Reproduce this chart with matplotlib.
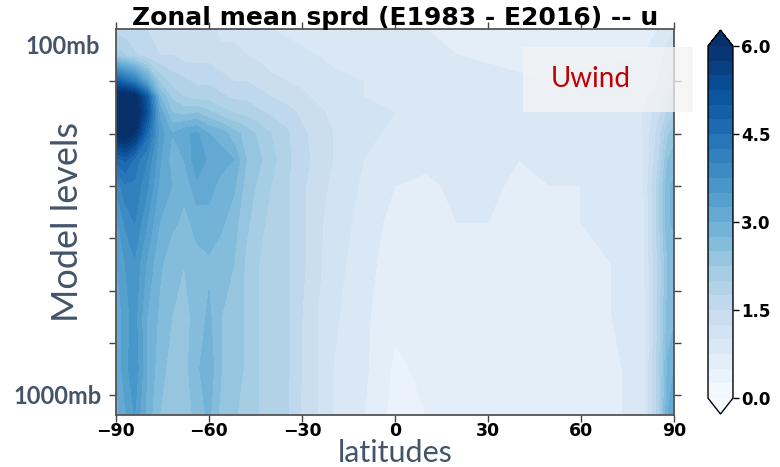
import numpy as np
import matplotlib
matplotlib.use("Agg")
import matplotlib.pyplot as plt
from matplotlib.patches import Rectangle

# latitude columns and model-level rows of the zonal mean spread (m/s)
lats = [-90, -87, -84, -80, -76, -72, -68, -64, -60, -56, -52, -48, -44, -40, -35,
        -30, -25, -20, -10, 0, 10, 20, 30, 40, 50, 60, 70, 80, 85, 88, 90]
levs = [0, 5, 10, 13, 16, 20, 25, 30, 37, 45, 55, 65, 74]

sprd_rows = [
    [1.6, 1.6, 1.5, 1.5, 1.4, 1.4, 1.3, 1.3, 1.3, 1.2, 1.2, 1.1, 1.05, 1.0, 0.95, 0.9, 0.9, 0.9, 0.85, 0.8, 0.75, 0.7, 0.65, 0.6, 0.6, 0.6, 0.6, 0.65, 0.75, 0.9, 1.0],
    [2.2, 2.0, 1.8, 1.6, 1.5, 1.5, 1.4, 1.4, 1.4, 1.3, 1.3, 1.25, 1.2, 1.15, 1.1, 1.05, 1.0, 0.95, 0.9, 0.85, 0.8, 0.75, 0.7, 0.65, 0.65, 0.65, 0.7, 0.75, 0.9, 1.1, 1.2],
    [5.0, 4.6, 4.2, 3.2, 2.2, 1.9, 1.8, 1.7, 1.7, 1.6, 1.5, 1.5, 1.4, 1.3, 1.25, 1.2, 1.1, 1.05, 1.0, 0.95, 0.9, 0.85, 0.85, 0.8, 0.75, 0.8, 0.85, 0.9, 1.0, 1.3, 1.4],
    [6.4, 6.5, 6.3, 5.0, 2.8, 2.2, 2.0, 1.9, 1.9, 1.8, 1.7, 1.7, 1.6, 1.5, 1.4, 1.3, 1.2, 1.1, 1.0, 1.0, 0.95, 0.95, 0.9, 0.9, 0.85, 0.9, 0.9, 0.95, 1.1, 1.5, 1.7],
    [6.6, 6.8, 6.5, 5.2, 3.2, 2.5, 2.4, 2.5, 2.3, 2.1, 2.0, 1.9, 1.8, 1.7, 1.6, 1.45, 1.3, 1.2, 1.05, 1.0, 0.95, 0.95, 0.9, 0.9, 0.9, 0.95, 0.95, 1.0, 1.4, 1.8, 2.0],
    [6.2, 6.4, 6.0, 4.6, 3.4, 3.0, 3.2, 3.3, 3.0, 2.9, 2.6, 2.4, 2.2, 2.0, 1.8, 1.55, 1.4, 1.25, 1.05, 0.95, 0.9, 0.9, 0.9, 0.85, 0.85, 0.85, 0.9, 1.0, 1.6, 2.2, 2.4],
    [4.6, 4.8, 4.4, 4.0, 3.3, 2.9, 3.0, 3.4, 3.2, 3.1, 3.0, 2.5, 2.3, 2.1, 1.8, 1.6, 1.4, 1.25, 1.0, 0.85, 0.8, 0.85, 0.85, 0.75, 0.8, 0.8, 0.85, 0.95, 1.7, 2.5, 2.6],
    [3.8, 4.2, 4.2, 3.8, 3.2, 3.0, 2.8, 3.2, 3.1, 2.9, 2.8, 2.4, 2.2, 2.0, 1.8, 1.55, 1.35, 1.2, 0.95, 0.75, 0.7, 0.8, 0.8, 0.7, 0.75, 0.75, 0.8, 0.95, 1.9, 2.7, 2.8],
    [3.4, 3.8, 4.0, 3.5, 3.0, 2.8, 2.7, 2.8, 2.9, 2.8, 2.6, 2.3, 2.1, 1.9, 1.8, 1.55, 1.3, 1.15, 0.9, 0.65, 0.65, 0.75, 0.75, 0.65, 0.7, 0.75, 0.8, 0.9, 1.9, 2.7, 2.8],
    [3.2, 3.5, 3.7, 3.2, 2.8, 2.6, 2.5, 2.7, 2.7, 2.6, 2.5, 2.2, 2.0, 1.9, 1.8, 1.55, 1.3, 1.1, 0.85, 0.6, 0.6, 0.7, 0.7, 0.6, 0.6, 0.7, 0.75, 0.9, 1.8, 2.5, 2.6],
    [3.0, 3.4, 3.6, 3.0, 2.7, 2.5, 2.4, 2.6, 2.8, 2.5, 2.4, 2.2, 2.0, 1.9, 1.8, 1.5, 1.25, 1.05, 0.8, 0.55, 0.55, 0.7, 0.7, 0.55, 0.6, 0.65, 0.75, 0.85, 1.8, 2.6, 2.7],
    [3.0, 3.4, 3.7, 3.0, 2.6, 2.4, 2.4, 2.7, 2.9, 2.5, 2.4, 2.2, 2.0, 1.9, 1.8, 1.5, 1.25, 1.0, 0.8, 0.45, 0.55, 0.65, 0.65, 0.5, 0.55, 0.65, 0.7, 0.85, 1.9, 2.8, 3.0],
    [2.9, 3.2, 3.5, 2.9, 2.5, 2.4, 2.3, 2.6, 2.8, 2.4, 2.3, 2.1, 2.0, 1.8, 1.8, 1.45, 1.25, 1.0, 0.75, 0.4, 0.5, 0.65, 0.65, 0.5, 0.55, 0.65, 0.7, 0.85, 1.9, 3.0, 3.2],
]

clevs = np.arange(0, 6.25, 0.25)
cbar_ticks = [0.0, 1.5, 3.0, 4.5, 6.0]
xticks = [-90, -60, -30, 0, 30, 60, 90]
yticks = [10, 20, 30, 40, 50, 60, 70]

slate = "#44546a"

sprd = np.array(sprd_rows)

fig = plt.figure(figsize=(7.8, 4.67), dpi=100)
ax = fig.add_axes([0.1487, 0.1113, 0.7154, 0.8266])
cs = ax.contourf(lats, levs, sprd, levels=clevs, cmap="Blues", extend="both")

ax.set_xlim(-90, 90)
ax.set_ylim(73.8, 0)
ax.set_xticks(xticks)
ax.set_xticklabels([f"{t}".replace("-", "\u2212") for t in xticks],
                   fontweight="bold", fontsize=12.5)
ax.set_yticks(yticks)
ax.set_yticklabels([])
ax.tick_params(direction="out", length=5, width=1, color="#444444",
               top=True, right=True, pad=0)
for sp in ax.spines.values():
    sp.set_color("#555555")
    sp.set_linewidth(1.3)

ax.set_title("Zonal mean sprd (E1983 - E2016) -- u", fontweight="bold",
             fontsize=18, pad=3)

# colorbar with arrow ends
cax = fig.add_axes([0.9077, 0.1135, 0.032, 0.822])
cb = fig.colorbar(cs, cax=cax, ticks=cbar_ticks, extendfrac=0.045)
cb.ax.set_yticklabels([f"{t:.1f}" for t in cbar_ticks], fontweight="bold",
                      fontsize=12)
cb.outline.set_linewidth(1.0)
cb.ax.tick_params(length=4, width=1, pad=2)

# pressure labels and axis titles
fig.text(0.080, 1 - 46 / 467, "100mb", ha="center", va="center",
         fontsize=17, fontweight="bold", color=slate, family="Lato")
fig.text(0.074, 1 - 396 / 467, "1000mb", ha="center", va="center",
         fontsize=17, fontweight="bold", color=slate, family="Lato")
fig.text(68 / 780, 1 - 222 / 467, "Model levels", rotation=90, ha="center",
         va="center", fontsize=26, color=slate, family="Lato")
fig.text(395 / 780, 1 - 462 / 467, "latitudes", ha="center", va="baseline",
         fontsize=22, color=slate, family="Lato")

# variable tag
fig.patches.append(Rectangle((523 / 780, 1 - 112 / 467), 170 / 780, 65 / 467,
                             transform=fig.transFigure, facecolor="#f4f4f4",
                             edgecolor="none", alpha=0.75, zorder=5))
fig.text(591 / 780, 1 - 79 / 467, "Uwind", ha="center", va="center",
         fontsize=20, color="#c00000", family="Lato", zorder=6)

fig.savefig("out.png", dpi=100)
